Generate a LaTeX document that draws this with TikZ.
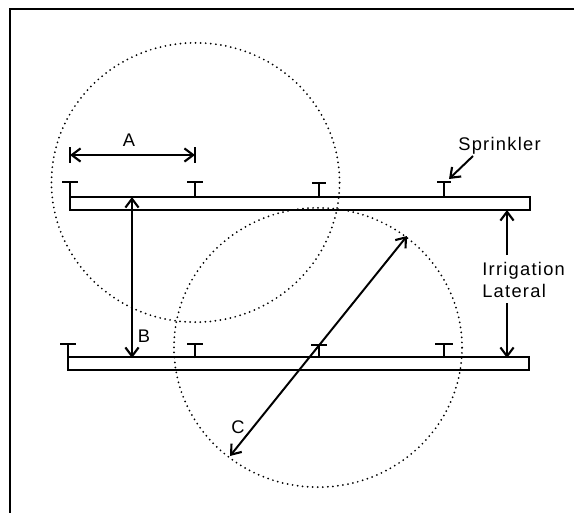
\documentclass[tikz,border=0pt]{standalone}
\usepackage{fontspec}
\setmainfont[LetterSpace=7]{Liberation Sans}
\usetikzlibrary{arrows.meta,shapes.geometric}
\tikzset{
  lateral/.style  = {draw, line width=1.4pt, inner sep=0pt, minimum width=11.5cm, minimum height=0.31cm},
  coverage/.style = {ellipse, draw, inner sep=0pt, minimum width=7.2cm, minimum height=6.98cm, line width=1.4pt,
                     line cap=round, dash pattern=on 0pt off 3.6pt},
  pipe/.style     = {line width=1.3pt},
  dim/.style      = {{Straight Barb[length=2.2mm,width=3.3mm,line width=1.5pt]}-{Straight Barb[length=2.2mm,width=3.3mm,line width=1.5pt]}, line width=1.4pt},
  lead/.style     = {-{Straight Barb[length=2.2mm,width=3.3mm,line width=1.5pt]}, line width=1.4pt},
  lab/.style      = {inner sep=0pt, font=\fontsize{13}{15}\selectfont},
}

\begin{document}
\begin{tikzpicture}[x=0.025cm,y=-0.025cm]
  \useasboundingbox (0,0) rectangle (584,513);
  % frame
  \coordinate (f1) at (574,9);
  \coordinate (f2) at (10,9);
  \coordinate (f3) at (10,513);
  \draw[line width=1.4pt] (f1) -- (f2) -- (f3);
  % coverage circles
  \node[coverage] (c1) at (195.5,182.5) {};
  \node[coverage] (c2) at (318,347.5) {};
  % laterals
  \node[lateral] (l1) at (300,203.5) {};
  \node[lateral] (l2) at (298.5,363.5) {};
  % sprinklers
  \foreach \name/\x/\y/\w/\h in {s1/70/197/8/15, s2/195/197/8/15, s3/319/197/7/14, s4/444/197/7/15,
                                 s5/68/358/8/14, s6/195/358/8/14, s7/319/358/8/13, s8/444/358/9/14} {
    \coordinate (\name) at (\x,\y);
    \coordinate (\name t) at (\x,\y-\h);
    \draw[pipe] (\name) -- (\name t);
    \draw[pipe] (\x-\w,\y-\h) -- (\x+\w,\y-\h);
  }
  % A
  \coordinate (a1) at (70,155);
  \coordinate (a2) at (195,155);
  \draw[dim] (a1) -- (a2);
  \draw[line width=1.6pt] (70,147) -- (70,163);
  \draw[line width=1.6pt] (195,147) -- (195,163);
  \node[lab] (la) at (129,140) {A};
  % B
  \coordinate (b1) at (132,197);
  \coordinate (b2) at (132,358);
  \draw[dim] (b1) -- (b2);
  \node[lab] (lb) at (144,336) {B};
  % C
  \coordinate (d1) at (230,456);
  \coordinate (d2) at (407,236);
  \draw[dim] (d1) -- (d2);
  \node[lab] (lc) at (238,427) {C};
  % irrigation lateral
  \coordinate (e1) at (507,210);
  \coordinate (e2) at (507,255);
  \coordinate (e3) at (507,303);
  \coordinate (e4) at (507,358);
  \draw[lead] (e2) -- (e1);
  \draw[lead] (e3) -- (e4);
  \node[lab, align=left, anchor=west] (li) at (482,280) {Irrigation\\Lateral};
  % sprinkler label
  \node[lab] (ls) at (499.5,146) {Sprinkler};
  \coordinate (g1) at (473,156);
  \coordinate (g2) at (449,179);
  \draw[lead] (g1) -- (g2);
\end{tikzpicture}
\end{document}
